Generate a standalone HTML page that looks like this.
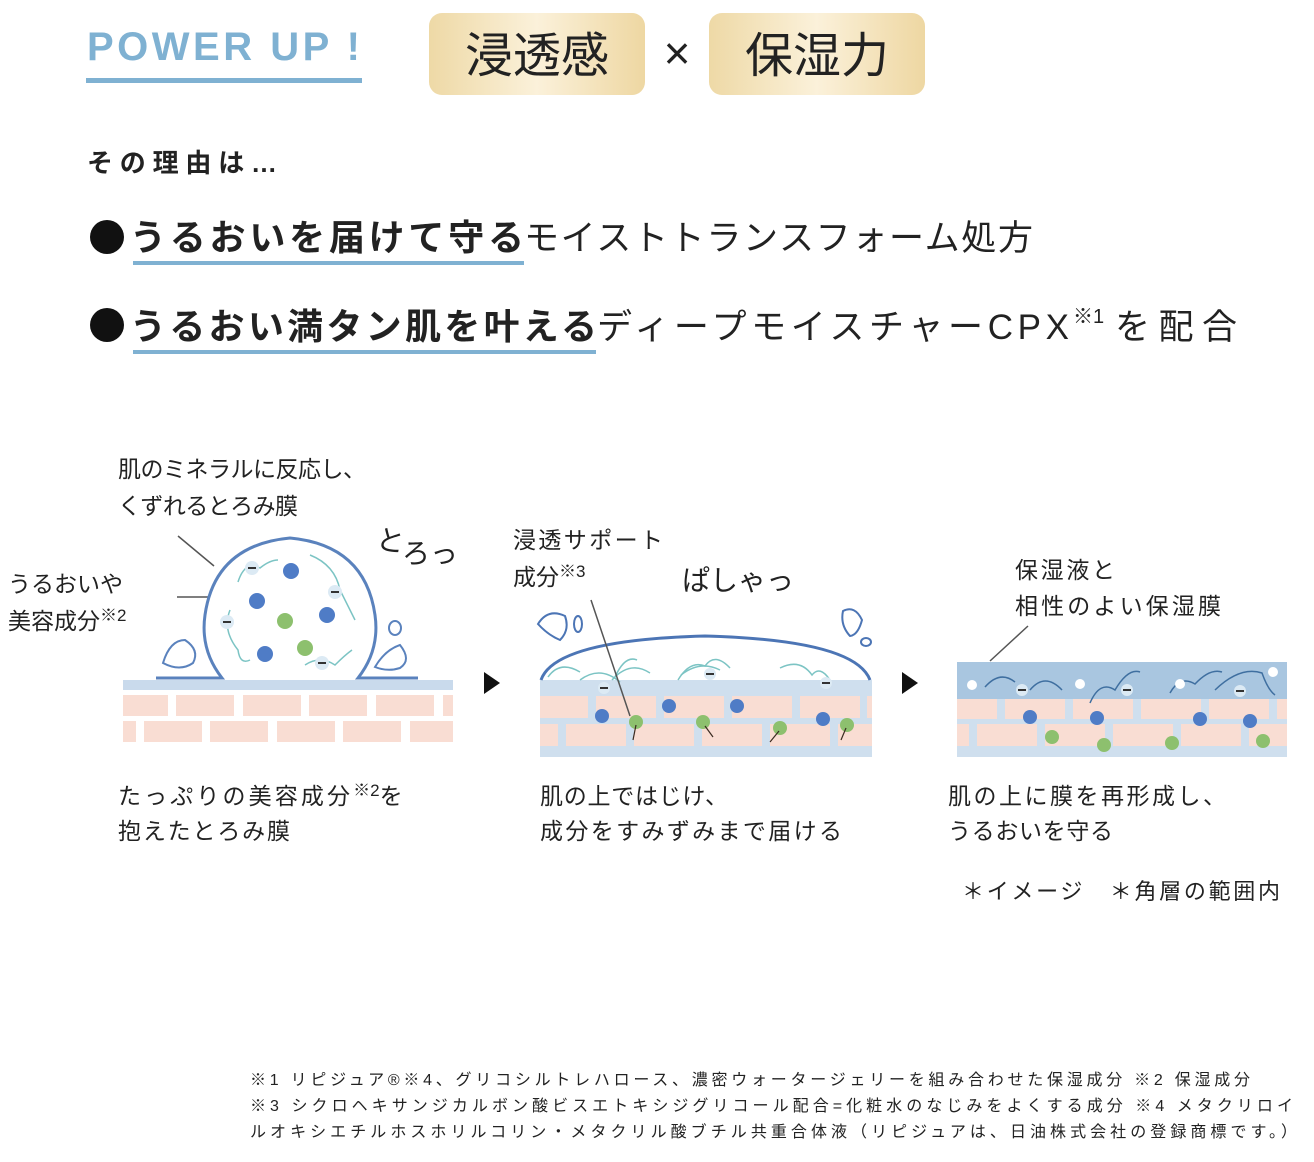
<!DOCTYPE html>
<html><head><meta charset="utf-8"><style>
html,body{margin:0;padding:0;background:#fff;}
svg{display:block;}
text{font-family:"Liberation Sans","Noto Sans CJK JP",sans-serif;fill:#222;}
</style></head><body>
<svg width="1314" height="1162" viewBox="0 0 1314 1162" xmlns="http://www.w3.org/2000/svg">
<defs>
<linearGradient id="gold" x1="0" x2="1" y1="0" y2="0">
<stop offset="0" stop-color="#eed9a6"/><stop offset="0.5" stop-color="#fbf1da"/><stop offset="1" stop-color="#eed7a2"/>
</linearGradient>
</defs>
<!-- header -->
<text x="87" y="60" font-size="40" font-weight="bold" fill="#7fb1d2" style="fill:#7fb1d2" textLength="273">POWER UP !</text>
<rect x="86" y="78" width="276" height="5" fill="#7fb1d2"/>
<rect x="429" y="13" width="216" height="82" rx="13" fill="url(#gold)"/>
<rect x="709" y="13" width="216" height="82" rx="13" fill="url(#gold)"/>
<text x="537" y="72" font-size="48" text-anchor="middle">浸透感</text>
<text x="817" y="72" font-size="48" text-anchor="middle">保湿力</text>
<text x="677" y="69" font-size="46" text-anchor="middle">×</text>

<text x="87" y="172" font-size="26" font-weight="bold" textLength="190">その理由は…</text>

<circle cx="107" cy="237" r="17" fill="#111"/>
<text x="130" y="250" font-size="36" font-weight="bold" textLength="394">うるおいを届けて守る</text>
<text x="524" y="250" font-size="35" textLength="509">モイストトランスフォーム処方</text>
<rect x="133" y="261" width="391" height="4" fill="#7fb1d2"/>

<circle cx="107" cy="325" r="17" fill="#111"/>
<text x="130" y="339" font-size="36" font-weight="bold" textLength="467">うるおい満タン肌を叶える</text>
<text x="597" y="339" font-size="35" textLength="472">ディープモイスチャーCPX</text>
<text x="1073" y="323" font-size="20">※1</text>
<text x="1115" y="339" font-size="35" textLength="122">を配合</text>
<rect x="133" y="350" width="463" height="4" fill="#7fb1d2"/>

<!-- diagram 1 -->
<text x="118" y="477" font-size="23" textLength="248">肌のミネラルに反応し、</text>
<text x="118" y="514" font-size="23" textLength="180">くずれるとろみ膜</text>
<text x="8" y="592" font-size="23" textLength="115">うるおいや</text>
<text x="8" y="629" font-size="23">美容成分<tspan font-size="17" dy="-8">※2</tspan></text>
<text x="375" y="548" font-size="28" transform="rotate(10 375 548)">と</text>
<text x="402" y="563" font-size="28">ろっ</text>
<line x1="178" y1="536" x2="214" y2="566" stroke="#555" stroke-width="1.5"/>
<line x1="177" y1="597" x2="252" y2="597" stroke="#555" stroke-width="1.5"/>
<rect x="123" y="680" width="330" height="10" fill="#c9daec"/>
<g fill="#f9ddd3">
<rect x="123" y="695" width="45" height="21"/><rect x="176" y="695" width="58" height="21"/><rect x="243" y="695" width="58" height="21"/><rect x="309" y="695" width="58" height="21"/><rect x="376" y="695" width="58" height="21"/><rect x="443" y="695" width="10" height="21"/>
<rect x="123" y="721" width="13" height="21"/><rect x="144" y="721" width="58" height="21"/><rect x="210" y="721" width="58" height="21"/><rect x="277" y="721" width="58" height="21"/><rect x="343" y="721" width="58" height="21"/><rect x="410" y="721" width="43" height="21"/>
</g>
<path d="M156 678 L222 678 Q200 650 205 615 Q215 545 290 538 Q365 545 375 615 Q380 650 358 678 L418 678" fill="#fff" stroke="#5a82bd" stroke-width="3"/>
<g fill="none" stroke="#7cc4c4" stroke-width="1.5">
<path d="M238 582 Q245 560 260 568 Q270 560 278 560"/><path d="M310 555 Q335 565 340 590 Q350 610 355 620"/>
<path d="M230 610 Q222 630 238 650 Q240 665 250 660"/><path d="M305 665 Q320 655 335 665 Q345 655 352 650"/>
</g>
<g fill="#dceaf4"><circle cx="252" cy="568" r="7"/><circle cx="335" cy="592" r="7"/><circle cx="227" cy="622" r="7"/><circle cx="322" cy="663" r="7"/></g>
<g fill="#333"><rect x="248" y="567" width="8" height="2"/><rect x="331" y="591" width="8" height="2"/><rect x="223" y="621" width="8" height="2"/><rect x="318" y="662" width="8" height="2"/></g>
<g fill="#4f7cc6"><circle cx="291" cy="571" r="8"/><circle cx="257" cy="601" r="8"/><circle cx="327" cy="615" r="8"/><circle cx="265" cy="654" r="8"/></g>
<g fill="#8dc06e"><circle cx="285" cy="621" r="8"/><circle cx="305" cy="648" r="8"/></g>
<path d="M163 663 Q170 640 185 640 Q200 650 193 663 Q180 672 163 663Z" fill="#fff" stroke="#5a82bd" stroke-width="2"/>
<path d="M375 667 Q385 650 400 645 Q412 660 400 668 Q388 672 375 667Z" fill="#fff" stroke="#5a82bd" stroke-width="2"/>
<ellipse cx="395" cy="628" rx="6" ry="7" fill="#fff" stroke="#5a82bd" stroke-width="2"/>

<polygon points="484,672 500,683 484,694" fill="#111"/>
<polygon points="902,672 918,683 902,694" fill="#111"/>

<!-- diagram 2 -->
<text x="513" y="548" font-size="23" textLength="150">浸透サポート</text>
<text x="513" y="585" font-size="23">成分<tspan font-size="17" dy="-8">※3</tspan></text>
<text x="682" y="590" font-size="28">ぱしゃっ</text>
<rect x="540" y="680" width="332" height="77" fill="#cfdfee"/>
<g fill="#f9ddd3">
<rect x="540" y="696" width="48" height="22"/><rect x="596" y="696" width="60" height="22"/><rect x="664" y="696" width="60" height="22"/><rect x="732" y="696" width="60" height="22"/><rect x="800" y="696" width="60" height="22"/><rect x="867" y="696" width="5" height="22"/>
<rect x="540" y="724" width="18" height="22"/><rect x="566" y="724" width="60" height="22"/><rect x="634" y="724" width="60" height="22"/><rect x="702" y="724" width="60" height="22"/><rect x="770" y="724" width="60" height="22"/><rect x="838" y="724" width="34" height="22"/>
</g>
<path d="M541 680 Q555 640 705 636 Q855 640 870 680" fill="none" stroke="#4c75b5" stroke-width="3"/>
<g fill="none" stroke="#7cc4c4" stroke-width="1.5">
<path d="M548 677 Q560 660 580 672"/><path d="M580 680 Q600 665 620 682"/><path d="M615 677 Q625 655 637 660"/>
<path d="M612 680 Q630 660 650 673"/><path d="M678 680 Q690 660 705 666 Q715 652 730 668"/><path d="M681 675 Q700 660 720 670"/><path d="M780 668 Q800 658 812 675 Q820 665 830 680"/>
</g>
<g fill="#dceaf4"><circle cx="604" cy="688" r="6"/><circle cx="710" cy="674" r="6"/><circle cx="826" cy="683" r="6"/></g>
<g fill="#333"><rect x="600" y="687" width="8" height="2"/><rect x="706" y="673" width="8" height="2"/><rect x="822" y="682" width="8" height="2"/></g>
<g fill="#4f7cc6"><circle cx="602" cy="716" r="7"/><circle cx="669" cy="706" r="7"/><circle cx="737" cy="706" r="7"/><circle cx="823" cy="719" r="7"/></g>
<g fill="#8dc06e"><circle cx="636" cy="722" r="7"/><circle cx="703" cy="722" r="7"/><circle cx="780" cy="728" r="7"/><circle cx="847" cy="725" r="7"/></g>
<g stroke="#3a2a20" stroke-width="1.2"><line x1="636" y1="725" x2="633" y2="740"/><line x1="705" y1="726" x2="713" y2="737"/><line x1="779" y1="731" x2="770" y2="742"/><line x1="846" y1="728" x2="841" y2="740"/></g>
<line x1="591" y1="600" x2="630" y2="716" stroke="#555" stroke-width="1.5"/>
<path d="M538 624 Q548 608 565 616 Q570 630 560 640 Q548 635 538 624Z" fill="#fff" stroke="#4c75b5" stroke-width="2"/>
<ellipse cx="578" cy="624" rx="4" ry="8" fill="#fff" stroke="#4c75b5" stroke-width="2"/>
<path d="M843 611 Q855 605 862 620 Q858 635 850 636 Q840 625 843 611Z" fill="#fff" stroke="#4c75b5" stroke-width="2"/>
<ellipse cx="866" cy="642" rx="5" ry="4" fill="#fff" stroke="#4c75b5" stroke-width="2"/>

<!-- diagram 3 -->
<text x="1015" y="578" font-size="23" textLength="100">保湿液と</text>
<text x="1015" y="614" font-size="23" textLength="206">相性のよい保湿膜</text>
<line x1="1028" y1="626" x2="990" y2="661" stroke="#555" stroke-width="1.5"/>
<rect x="957" y="662" width="330" height="95" fill="#cfdfee"/>
<rect x="957" y="662" width="330" height="37" fill="#a9c6e0"/>
<g fill="#f9ddd3">
<rect x="957" y="699" width="40" height="20"/><rect x="1005" y="699" width="60" height="20"/><rect x="1073" y="699" width="60" height="20"/><rect x="1141" y="699" width="60" height="20"/><rect x="1209" y="699" width="60" height="20"/><rect x="1277" y="699" width="10" height="20"/>
<rect x="957" y="724" width="12" height="22"/><rect x="977" y="724" width="60" height="22"/><rect x="1045" y="724" width="60" height="22"/><rect x="1113" y="724" width="60" height="22"/><rect x="1181" y="724" width="60" height="22"/><rect x="1249" y="724" width="38" height="22"/>
</g>
<g fill="none" stroke="#3f6fa0" stroke-width="1.5">
<path d="M985 687 Q1000 670 1015 682"/><path d="M1030 690 Q1045 672 1062 690"/><path d="M1090 703 Q1100 680 1115 690 Q1128 668 1140 672"/><path d="M1170 693 Q1180 675 1195 684 Q1210 668 1222 672"/><path d="M1215 690 Q1240 666 1262 673 Q1268 690 1275 695"/>
</g>
<g fill="#dceaf4"><circle cx="1022" cy="690" r="6"/><circle cx="1127" cy="690" r="6"/><circle cx="1240" cy="691" r="6"/></g>
<g fill="#333"><rect x="1018" y="689" width="8" height="2"/><rect x="1123" y="689" width="8" height="2"/><rect x="1236" y="690" width="8" height="2"/></g>
<g fill="#fff"><circle cx="972" cy="685" r="5"/><circle cx="1080" cy="684" r="5"/><circle cx="1180" cy="684" r="5"/><circle cx="1273" cy="672" r="5"/></g>
<g fill="#4f7cc6"><circle cx="1030" cy="717" r="7"/><circle cx="1097" cy="718" r="7"/><circle cx="1200" cy="719" r="7"/><circle cx="1250" cy="721" r="7"/></g>
<g fill="#8dc06e"><circle cx="1052" cy="737" r="7"/><circle cx="1104" cy="745" r="7"/><circle cx="1172" cy="743" r="7"/><circle cx="1263" cy="741" r="7"/></g>

<!-- captions -->
<text x="118" y="804" font-size="23"><tspan textLength="232">たっぷりの美容成分</tspan><tspan font-size="17" dy="-8">※2</tspan><tspan dy="8">を</tspan></text>
<text x="118" y="839" font-size="23" textLength="172">抱えたとろみ膜</text>
<text x="540" y="804" font-size="23" textLength="188">肌の上ではじけ、</text>
<text x="540" y="839" font-size="23" textLength="302">成分をすみずみまで届ける</text>
<text x="948" y="804" font-size="23" textLength="278">肌の上に膜を再形成し、</text>
<text x="948" y="839" font-size="23" textLength="165">うるおいを守る</text>
<text x="962" y="899" font-size="22" textLength="318">＊イメージ　＊角層の範囲内</text>

<!-- footnotes -->
<text x="250" y="1085" font-size="16" textLength="1000">※1 リピジュア®※4、グリコシルトレハロース、濃密ウォータージェリーを組み合わせた保湿成分 ※2 保湿成分</text>
<text x="250" y="1111" font-size="16" textLength="1043">※3 シクロヘキサンジカルボン酸ビスエトキシジグリコール配合=化粧水のなじみをよくする成分 ※4 メタクリロイ</text>
<text x="250" y="1137" font-size="16" textLength="1047">ルオキシエチルホスホリルコリン・メタクリル酸ブチル共重合体液（リピジュアは、日油株式会社の登録商標です。）</text>
</svg>
</body></html>
